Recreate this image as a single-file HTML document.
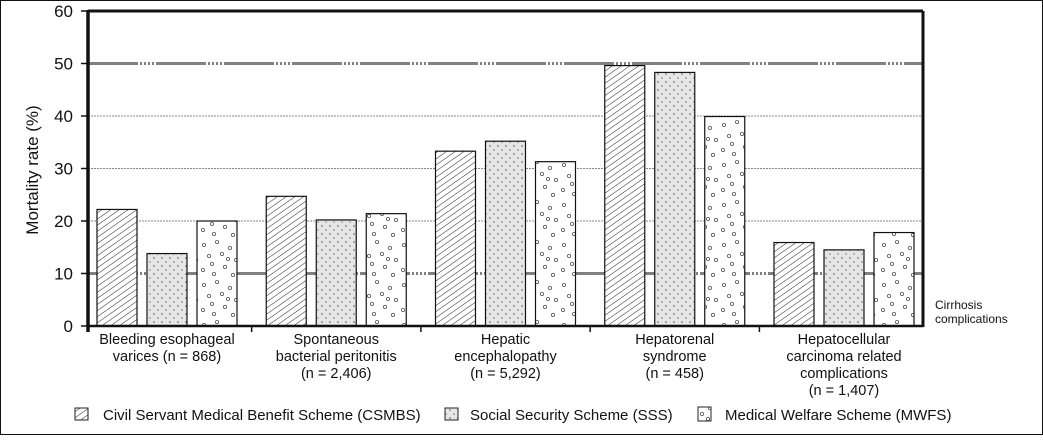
<!DOCTYPE html>
<html><head><meta charset="utf-8"><style>
body{margin:0;background:#fff}
svg text{font-family:"Liberation Sans",sans-serif;fill:#111}
</style></head><body>
<svg width="1043" height="435" viewBox="0 0 1043 435">
<defs>
<pattern id="hatch" width="5" height="5" patternUnits="userSpaceOnUse" patternTransform="rotate(-35)">
<rect width="5" height="5" fill="#fff"/><line x1="0" y1="0" x2="5" y2="0" stroke="#222" stroke-width="1"/></pattern>
<pattern id="dots" width="8" height="8" patternUnits="userSpaceOnUse">
<rect width="8" height="8" fill="#e6e6e6"/><circle cx="2" cy="2" r="0.9" fill="#777"/><path d="M6 5v2M5 6h2" stroke="#999" stroke-width="0.8"/></pattern>
<pattern id="circles" width="40" height="40" patternUnits="userSpaceOnUse">
<rect width="40" height="40" fill="#fff"/>
<g fill="none" stroke="#555" stroke-width="0.8">
<circle cx="4" cy="5" r="1.6"/><circle cx="17" cy="2" r="1.6"/><circle cx="30" cy="8" r="1.6"/><circle cx="36" cy="20" r="1.6"/>
<circle cx="9" cy="16" r="1.6"/><circle cx="22" cy="14" r="1.6"/><circle cx="25" cy="27" r="1.6"/><circle cx="3" cy="30" r="1.6"/>
<circle cx="14" cy="34" r="1.6"/><circle cx="33" cy="35" r="1.6"/><circle cx="12" cy="24" r="1.6"/><circle cx="28" cy="19" r="1.6"/></g></pattern>
</defs>
<rect x="0.5" y="0.5" width="1042" height="434" fill="#fff" stroke="#111"/>
<g id="grid"></g><g id="bars"></g><g id="axes"></g>
<text x="935" y="309" font-size="12">Cirrhosis</text>
<text x="935" y="323" font-size="12">complications</text>
<text transform="translate(38,170) rotate(-90)" text-anchor="middle" font-size="17">Mortality rate (%)</text>
<g>
<rect x="75" y="408" width="13" height="12" fill="url(#hatch)" stroke="#222"/>
<text x="103" y="420" font-size="15">Civil Servant Medical Benefit Scheme (CSMBS)</text>
<rect x="445" y="408" width="13" height="12" fill="url(#dots)" stroke="#222"/>
<text x="470" y="420" font-size="15">Social Security Scheme (SSS)</text>
<rect x="698" y="407" width="13" height="14" fill="url(#circles)" stroke="#222"/>
<text x="725" y="420" font-size="15">Medical Welfare Scheme (MWFS)</text>
</g>
</svg>
<script>
const categories=[["Bleeding esophageal","varices (n = 868)"],["Spontaneous","bacterial peritonitis","(n = 2,406)"],["Hepatic","encephalopathy","(n = 5,292)"],["Hepatorenal","syndrome","(n = 458)"],["Hepatocellular","carcinoma related","complications","(n = 1,407)"]];
const csmbs=[22.2,24.7,33.3,49.6,15.9];
const sss=[13.8,20.2,35.2,48.3,14.5];
const mwfs=[20.0,21.4,31.3,39.9,17.8];
const yTicks=[0,10,20,30,40,50,60];
const NS="http://www.w3.org/2000/svg";
const X0=88,X1=923,Y0=326,Y1=11;
const y=v=>Y0-(v/60)*(Y0-Y1);
const gx=i=>167+169.25*i;
function mk(t,a,p){const e=document.createElementNS(NS,t);for(const k in a)e.setAttribute(k,a[k]);p.appendChild(e);return e;}
const grid=document.getElementById('grid'),bars=document.getElementById('bars'),axes=document.getElementById('axes');
yTicks.forEach(v=>{
  if(v>0&&v<60){const thick=(v===10||v===50);
    const l=mk('line',{x1:X0,x2:X1,y1:y(v),y2:y(v),stroke:thick?'#808080':'#888','stroke-width':thick?3:1,'stroke-dasharray':thick?'50,2,2,2,2,2,2,2,2,2':'2,1'},grid);
    
    }
  const t=mk('text',{x:73,y:y(v)+6,'text-anchor':'end','font-size':17},axes);t.textContent=v;
  
  
  const tk=mk('line',{x1:81,x2:88,y1:y(v),y2:y(v),stroke:'#111','stroke-width':1.5},axes);
  
  
});
const series=[[csmbs,'url(#hatch)','csmbs'],[sss,'url(#dots)','sss'],[mwfs,'url(#circles)','mwfs']];
categories.forEach((c,i)=>{
  series.forEach((s,j)=>{
    const cx=gx(i)+(j-1)*50,v=s[0][i];
    const r=mk('rect',{x:cx-20,y:y(v),width:40,height:Y0-y(v),fill:s[1],stroke:'#111','stroke-width':1.2},bars);
    
    
  });
  c.forEach((ln,k)=>{const t=mk('text',{x:gx(i),y:344+k*17,'text-anchor':'middle','font-size':14.5},axes);t.textContent=ln;
    
    });
  if(i>0){const tk=mk('line',{x1:gx(i)-84.6,x2:gx(i)-84.6,y1:Y0,y2:Y0+6,stroke:'#111','stroke-width':1.5},axes);
    
    }
});
[[X0,Y1,X1,Y1,3],[X1,Y1,X1,Y0+1,3],[X0,Y0,X1,Y0,2.5],[X0,Y1-1,X0,Y0+6,3.5]].forEach(a=>{
  const l=mk('line',{x1:a[0],y1:a[1],x2:a[2],y2:a[3],stroke:'#111','stroke-width':a[4]},axes);
  
  
});
</script>
</body></html>
